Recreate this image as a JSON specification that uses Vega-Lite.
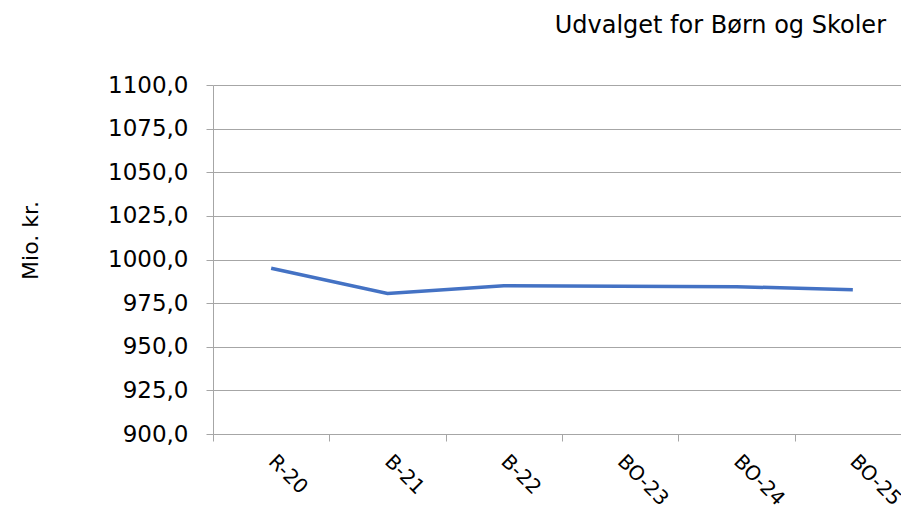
{
  "$schema": "https://vega.github.io/schema/vega-lite/v6.json",
  "width": 688,
  "height": 349,
  "autosize": {"type": "none"},
  "padding": {"left": 213, "top": 85, "right": 0, "bottom": 78},
  "background": "white",
  "config": {"view": {"stroke": null}, "font": "DejaVu Sans"},
  "title": {"text": "Udvalget for Børn og Skoler", "anchor": "end", "frame": "group", "dx": -15, "offset": 36, "fontSize": 24, "fontWeight": "normal", "font": "DejaVu Sans", "color": "#000000"},
  "data": {"values": [
    {"periode": "R-20", "vaerdi": 995.0},
    {"periode": "B-21", "vaerdi": 980.5},
    {"periode": "B-22", "vaerdi": 984.9},
    {"periode": "BO-23", "vaerdi": 984.7},
    {"periode": "BO-24", "vaerdi": 984.4},
    {"periode": "BO-25", "vaerdi": 982.7}
  ]},
  "mark": {"type": "line", "color": "#4472C4", "strokeWidth": 3.5},
  "encoding": {
    "x": {"field": "periode", "type": "ordinal", "sort": null,
      "scale": {"type": "band", "paddingInner": 0, "paddingOuter": 0, "range": [0, 698]},
      "axis": {"title": null, "labelAngle": 45, "labelAlign": "left", "labelBaseline": "middle", "labelPadding": 17, "labelFontSize": 20, "labelColor": "#000000", "domainColor": "#a6a6a6", "tickColor": "#a6a6a6", "tickSize": 7, "tickBand": "extent", "grid": false}},
    "y": {"field": "vaerdi", "type": "quantitative",
      "scale": {"domain": [900, 1100], "zero": false, "nice": false},
      "axis": {"values": [900, 925, 950, 975, 1000, 1025, 1050, 1075, 1100], "labelExpr": "replace(format(datum.value, '.1f'), '.', ',')", "grid": true, "gridColor": "#a6a6a6", "domainColor": "#a6a6a6", "tickColor": "#a6a6a6", "tickSize": 7, "labelPadding": 18, "labelFontSize": 23, "labelColor": "#000000", "title": "Mio. kr.", "titleFontSize": 22, "titleFontWeight": "normal", "titleColor": "#000000", "titleX": -183, "titleY": 155, "titleBaseline": "middle"}}
  }
}
